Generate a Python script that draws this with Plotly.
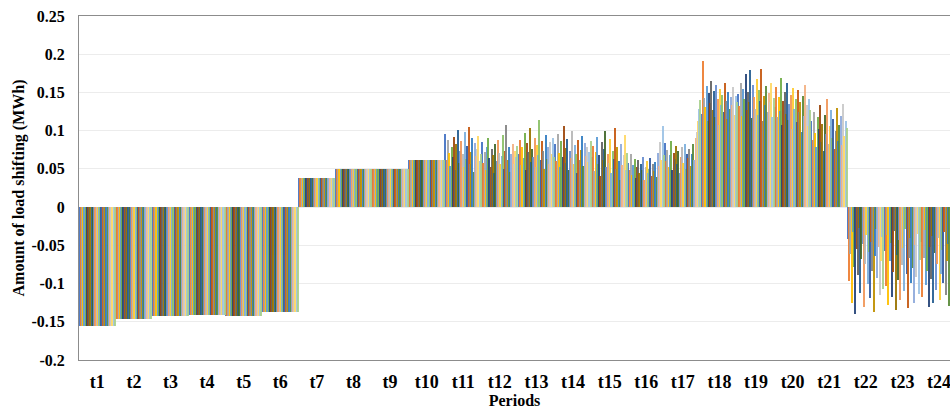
import plotly.graph_objects as go

periods = ["t%d" % i for i in range(1, 25)]

# constant periods (all scenarios equal)
const_values = {
    "t1": -0.155, "t2": -0.147, "t3": -0.143, "t4": -0.141, "t5": -0.143,
    "t6": -0.137, "t7": 0.0375, "t8": 0.0505, "t9": 0.0505, "t10": 0.0615,
}

# scenario-varying periods (30 scenarios each)
t11 = [0.095, 0.062, 0.088, 0.071, 0.054, 0.079, 0.066, 0.092, 0.048, 0.083, 0.101, 0.058, 0.074, 0.087, 0.069,
       0.052, 0.098, 0.063, 0.080, 0.105, 0.057, 0.072, 0.090, 0.046, 0.084, 0.067, 0.076, 0.093, 0.060, 0.070]
t12 = [0.085, 0.058, 0.072, 0.049, 0.079, 0.091, 0.064, 0.053, 0.076, 0.068, 0.044, 0.082, 0.060, 0.088, 0.071,
       0.056, 0.067, 0.094, 0.050, 0.074, 0.107, 0.062, 0.078, 0.046, 0.069, 0.083, 0.057, 0.073, 0.065, 0.080]
t13 = [0.070, 0.088, 0.055, 0.079, 0.064, 0.097, 0.048, 0.084, 0.072, 0.103, 0.059, 0.076, 0.066, 0.091, 0.052,
       0.081, 0.068, 0.114, 0.061, 0.087, 0.074, 0.050, 0.094, 0.063, 0.078, 0.057, 0.085, 0.069, 0.090, 0.066]
t14 = [0.082, 0.060, 0.095, 0.071, 0.053, 0.086, 0.066, 0.106, 0.058, 0.077, 0.089, 0.049, 0.073, 0.064, 0.099,
       0.056, 0.081, 0.070, 0.045, 0.088, 0.062, 0.075, 0.093, 0.054, 0.084, 0.067, 0.079, 0.059, 0.072, 0.087]
t15 = [0.065, 0.080, 0.047, 0.072, 0.092, 0.056, 0.068, 0.041, 0.085, 0.061, 0.076, 0.100, 0.052, 0.070, 0.058,
       0.089, 0.045, 0.074, 0.063, 0.103, 0.050, 0.079, 0.060, 0.036, 0.083, 0.055, 0.068, 0.094, 0.049, 0.071]
t16 = [0.058, 0.049, 0.069, 0.042, 0.055, 0.063, 0.038, 0.052, 0.061, 0.045, 0.057, 0.048, 0.066, 0.035, 0.053,
       0.060, 0.044, 0.050, 0.064, 0.041, 0.056, 0.047, 0.059, 0.039, 0.071, 0.054, 0.085, 0.062, 0.106, 0.068]
t17 = [0.084, 0.060, 0.075, 0.052, 0.068, 0.087, 0.049, 0.071, 0.063, 0.080, 0.056, 0.073, 0.045, 0.066, 0.078,
       0.058, 0.083, 0.050, 0.070, 0.064, 0.076, 0.054, 0.069, 0.082, 0.061, 0.090, 0.098, 0.112, 0.128, 0.140]
t18 = [0.122, 0.191, 0.143, 0.131, 0.158, 0.112, 0.149, 0.136, 0.165, 0.127, 0.152, 0.118, 0.160, 0.141, 0.108,
       0.155, 0.133, 0.147, 0.124, 0.162, 0.139, 0.115, 0.150, 0.128, 0.144, 0.134, 0.157, 0.120, 0.146, 0.138]
t19 = [0.148, 0.132, 0.163, 0.119, 0.155, 0.141, 0.174, 0.127, 0.151, 0.137, 0.180, 0.116, 0.160, 0.144, 0.129,
       0.168, 0.121, 0.153, 0.139, 0.181, 0.113, 0.146, 0.134, 0.158, 0.125, 0.149, 0.137, 0.162, 0.118, 0.143]
t20 = [0.131, 0.157, 0.118, 0.144, 0.126, 0.169, 0.108, 0.139, 0.151, 0.122, 0.163, 0.114, 0.135, 0.147, 0.102,
       0.156, 0.129, 0.141, 0.111, 0.153, 0.124, 0.137, 0.098, 0.145, 0.119, 0.160, 0.133, 0.106, 0.142, 0.127]
t21 = [0.112, 0.088, 0.125, 0.097, 0.079, 0.118, 0.102, 0.134, 0.085, 0.109, 0.073, 0.121, 0.095, 0.141, 0.083,
       0.106, 0.127, 0.091, 0.115, 0.076, 0.099, 0.130, 0.087, 0.108, 0.119, 0.081, 0.135, 0.093, 0.113, 0.104]
t22 = [-0.042, -0.096, -0.061, -0.125, -0.033, -0.078, -0.140, -0.055, -0.089, -0.027, -0.112, -0.068, -0.048, -0.131, -0.074,
       -0.037, -0.101, -0.059, -0.119, -0.045, -0.083, -0.137, -0.064, -0.029, -0.093, -0.052, -0.115, -0.071, -0.039, -0.107]
t23 = [-0.058, -0.103, -0.036, -0.128, -0.071, -0.047, -0.117, -0.085, -0.031, -0.134, -0.062, -0.095, -0.043, -0.122, -0.076,
       -0.054, -0.110, -0.028, -0.088, -0.132, -0.066, -0.040, -0.099, -0.079, -0.125, -0.050, -0.091, -0.035, -0.114, -0.069]
t24 = [-0.045, -0.118, -0.067, -0.030, -0.102, -0.083, -0.131, -0.052, -0.094, -0.038, -0.126, -0.060, -0.109, -0.074, -0.041,
       -0.121, -0.087, -0.056, -0.099, -0.033, -0.115, -0.070, -0.048, -0.129, -0.079, -0.063, -0.106, -0.036, -0.092, -0.058]

varying = {"t11": t11, "t12": t12, "t13": t13, "t14": t14, "t15": t15, "t16": t16, "t17": t17,
           "t18": t18, "t19": t19, "t20": t20, "t21": t21, "t22": t22, "t23": t23, "t24": t24}

colors = ["#4472C4", "#ED7D31", "#A5A5A5", "#FFC000", "#5B9BD5", "#70AD47", "#264478", "#9E480E", "#636363", "#997300",
          "#255E91", "#43682B", "#698ED0", "#F1975A", "#B7B7B7", "#FFCD33", "#7CAFDD", "#8CC168", "#335AA1", "#C65911",
          "#848484", "#BF9000", "#327DC2", "#5A8A39", "#8FAADC", "#F4B183", "#C9C9C9", "#FFD966", "#9DC3E6", "#A9D18E"]

y_ticks = [0.25, 0.2, 0.15, 0.1, 0.05, 0, -0.05, -0.1, -0.15, -0.2]
y_ticktext = ["0.25", "0.2", "0.15", "0.1", "0.05", "0", "-0.05", "-0.1", "-0.15", "-0.2"]

n_scen = len(t11)
fig = go.Figure()
for s in range(n_scen):
    ys = [const_values[p] if p in const_values else varying[p][s] for p in periods]
    fig.add_trace(go.Bar(x=periods, y=ys, marker=dict(color=colors[s % len(colors)], line=dict(width=0)),
                         opacity=0.92, showlegend=False, name="S%d" % (s + 1)))

font_family = "Liberation Serif, Times New Roman, serif"
fig.update_layout(
    width=950, height=412,
    margin=dict(l=79, r=0, t=16, b=52),
    paper_bgcolor="white", plot_bgcolor="white",
    barmode="group", bargap=0, bargroupgap=0,
    font=dict(family=font_family, size=16, color="black"),
    xaxis=dict(
        type="category", range=[-0.5, 23.3],
        showline=True, linecolor="#8c8c8c", linewidth=1, mirror=True,
        showgrid=False, ticks="outside", ticklen=5, tickcolor="rgba(0,0,0,0)",
        tickfont=dict(family=font_family, size=18, color="black", weight="bold"),
        title=dict(text="<b>Periods</b>", font=dict(family=font_family, size=16, color="black"), standoff=3),
    ),
    yaxis=dict(
        range=[-0.2, 0.25], tickvals=y_ticks, ticktext=y_ticktext,
        showline=True, linecolor="#8c8c8c", linewidth=1, mirror=False,
        showgrid=True, gridcolor="#ececec", gridwidth=1, zeroline=False,
        ticks="outside", ticklen=10, tickcolor="rgba(0,0,0,0)",
        tickfont=dict(family=font_family, size=16, color="black", weight="bold"),
        title=dict(text="<b>Amount of load shifting (MWh)</b>", font=dict(family=font_family, size=16, color="black"), standoff=2),
    ),
)

fig.write_html("out.html")
